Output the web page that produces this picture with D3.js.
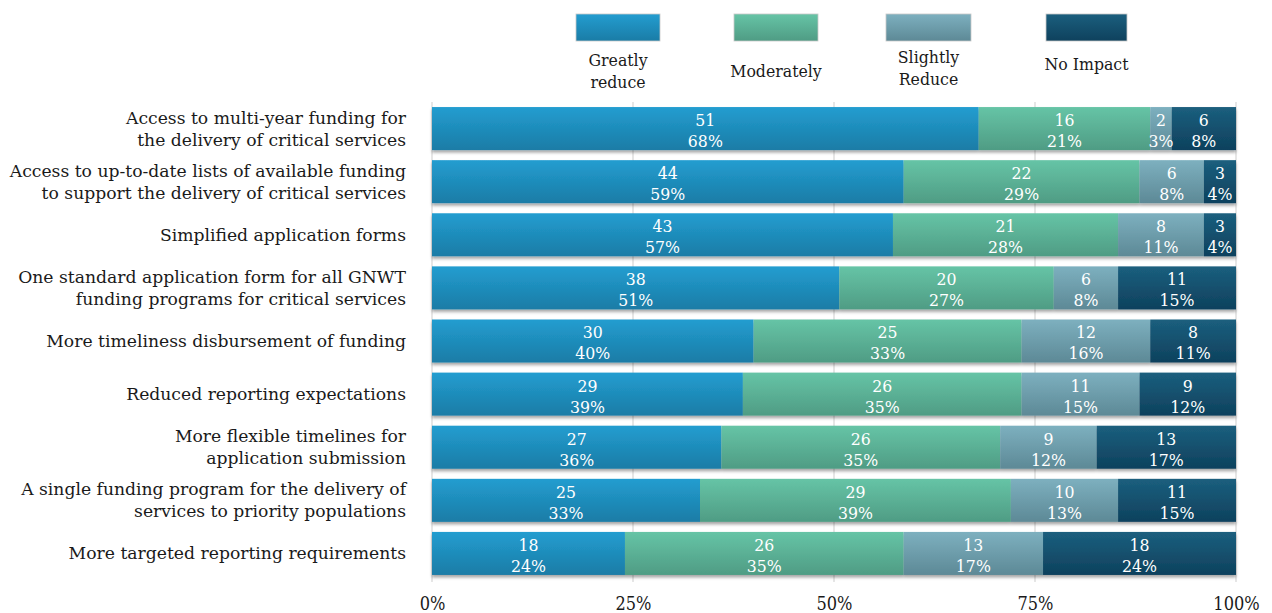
<!DOCTYPE html>
<html>
<head>
<meta charset="utf-8">
<script src="https://cdn.jsdelivr.net/npm/d3@7"></script>
<style>
  html, body { margin: 0; padding: 0; background: #fff; }
  svg { display: block; }
  text { font-family: "DejaVu Serif Condensed", "DejaVu Serif", serif; }
  .cat { font-family: "DejaVu Serif", serif; }
</style>
</head>
<body>
<svg id="chart" width="1272" height="613"></svg>
<script>
// Survey measures: how much each would reduce the burden (counts of respondents)
const categories = [
  ["Access to multi-year funding for", "the delivery of critical services"],
  ["Access to up-to-date lists of available funding", "to support the delivery of critical services"],
  ["Simplified application forms"],
  ["One standard application form for all GNWT", "funding programs for critical services"],
  ["More timeliness disbursement of funding"],
  ["Reduced reporting expectations"],
  ["More flexible timelines for", "application submission"],
  ["A single funding program for the delivery of", "services to priority populations"],
  ["More targeted reporting requirements"]
];
const seriesNames = ["Greatly reduce", "Moderately", "Slightly Reduce", "No Impact"];
const legendLines = [["Greatly", "reduce"], ["Moderately"], ["Slightly", "Reduce"], ["No Impact"]];
const greatlyReduce  = [51, 44, 43, 38, 30, 29, 27, 25, 18];
const moderately     = [16, 22, 21, 20, 25, 26, 26, 29, 26];
const slightlyReduce = [2, 6, 8, 6, 12, 11, 9, 10, 13];
const noImpact       = [6, 3, 3, 11, 8, 9, 13, 11, 18];
const pctGreatly     = [68, 59, 57, 51, 40, 39, 36, 33, 24];
const pctModerately  = [21, 29, 28, 27, 33, 35, 35, 39, 35];
const pctSlightly    = [3, 8, 11, 8, 16, 15, 12, 13, 17];
const pctNoImpact    = [8, 4, 4, 15, 11, 12, 17, 15, 24];
const xTicks = [0, 0.25, 0.5, 0.75, 1];

const counts = [greatlyReduce, moderately, slightlyReduce, noImpact];
const pcts = [pctGreatly, pctModerately, pctSlightly, pctNoImpact];
const colors = [
  ["#239dd0", "#1a7ca6"],
  ["#66c4a6", "#4f9c84"],
  ["#7db0bf", "#5d8996"],
  ["#1b5f7e", "#0e415d"]
];

const svg = d3.select("#chart");
const margin = { left: 432, right: 36, top: 102, bottom: 33 };
const W = 1272, H = 613;

const x = d3.scaleLinear().domain([0, 1]).range([margin.left, W - margin.right]);
const y = d3.scaleBand().domain(d3.range(categories.length))
  .range([margin.top, H - margin.bottom]).paddingInner(0.19).paddingOuter(0.095);

const defs = svg.append("defs");
colors.forEach((c, i) => {
  const g = defs.append("linearGradient").attr("id", "grad" + i)
    .attr("x1", 0).attr("y1", 0).attr("x2", 0).attr("y2", 1);
  g.append("stop").attr("offset", "0%").attr("stop-color", c[0]);
  g.append("stop").attr("offset", "100%").attr("stop-color", c[1]);
});
const shadow = defs.append("filter").attr("id", "shadow")
  .attr("x", "-5%").attr("y", "-20%").attr("width", "110%").attr("height", "150%");
shadow.append("feDropShadow").attr("dx", 0).attr("dy", 2.5).attr("stdDeviation", 1.6)
  .attr("flood-color", "#000").attr("flood-opacity", 0.35);

// Vertical gridlines
svg.append("g").selectAll("line").data(xTicks).join("line")
  .attr("x1", d => x(d)).attr("x2", d => x(d))
  .attr("y1", margin.top).attr("y2", H - margin.bottom + 2)
  .attr("stroke", "#d9d9d9").attr("stroke-width", 1.3);

// Stacked data
const rows = categories.map((c, i) => {
  const total = d3.sum(counts, s => s[i]);
  let acc = 0;
  return counts.map((s, k) => {
    const seg = { row: i, k, count: s[i], pct: pcts[k][i], x0: acc / total, x1: (acc + s[i]) / total };
    acc += s[i];
    return seg;
  });
});

const rowG = svg.append("g").selectAll("g").data(rows).join("g")
  .attr("filter", "url(#shadow)");
rowG.selectAll("rect").data(d => d).join("rect")
  .attr("x", d => x(d.x0)).attr("width", d => x(d.x1) - x(d.x0))
  .attr("y", d => y(d.row)).attr("height", y.bandwidth())
  .attr("fill", d => `url(#grad${d.k})`);

// Value labels
const lab = svg.append("g").selectAll("g").data(rows.flat()).join("g")
  .attr("transform", d => `translate(${(x(d.x0) + x(d.x1)) / 2},${y(d.row)})`);
lab.append("text").attr("y", 19).attr("text-anchor", "middle")
  .attr("fill", "#fff").attr("font-size", 17.5).text(d => d.count);
lab.append("text").attr("y", 40).attr("text-anchor", "middle")
  .attr("fill", "#fff").attr("font-size", 17.5).text(d => d.pct + "%");

// Category labels
const catG = svg.append("g").selectAll("text").data(categories).join("text")
  .attr("class", "cat")
  .attr("text-anchor", "end").attr("font-size", 17.2).attr("fill", "#1a1a1a")
  .attr("x", 406)
  .attr("y", (d, i) => y(i) + y.bandwidth() / 2);
catG.selectAll("tspan").data(d => d.map((t, j) => ({ t, j, n: d.length }))).join("tspan")
  .attr("x", 406)
  .attr("dy", (d) => d.j === 0 ? (d.n === 1 ? 6 : -5) : 22)
  .text(d => d.t);

// X axis labels
const xAxis = d3.axisBottom(x).tickValues(xTicks).tickFormat(d3.format(".0%")).tickSize(0).tickPadding(0);
const ax = svg.append("g").attr("transform", `translate(0,${H - 16})`).call(xAxis);
ax.select(".domain").remove();
ax.selectAll("text").attr("font-size", 18).attr("fill", "#1a1a1a")
  .attr("font-family", "DejaVu Serif Condensed, DejaVu Serif, serif");

// Legend
const legX = [576, 734, 886, 1046];
const legW = [84, 84, 85, 81];
const leg = svg.append("g").selectAll("g").data(seriesNames).join("g");
leg.append("rect")
  .attr("x", (d, i) => legX[i]).attr("y", 14)
  .attr("width", (d, i) => legW[i]).attr("height", 27)
  .attr("fill", (d, i) => `url(#grad${i})`)
  .attr("stroke", "#c8c8c8").attr("stroke-width", 0.8);
const legText = leg.append("text").attr("text-anchor", "middle")
  .attr("font-size", 17.5).attr("fill", "#1a1a1a");
legText.selectAll("tspan").data((d, i) => legendLines[i].map((t, j) => ({ t, j, i, n: legendLines[i].length })))
  .join("tspan")
  .attr("x", d => legX[d.i] + legW[d.i] / 2)
  .attr("y", d => {
    const base = [66, 77, 63, 70][d.i];
    return base + d.j * 22;
  })
  .text(d => d.t);
</script>
</body>
</html>
